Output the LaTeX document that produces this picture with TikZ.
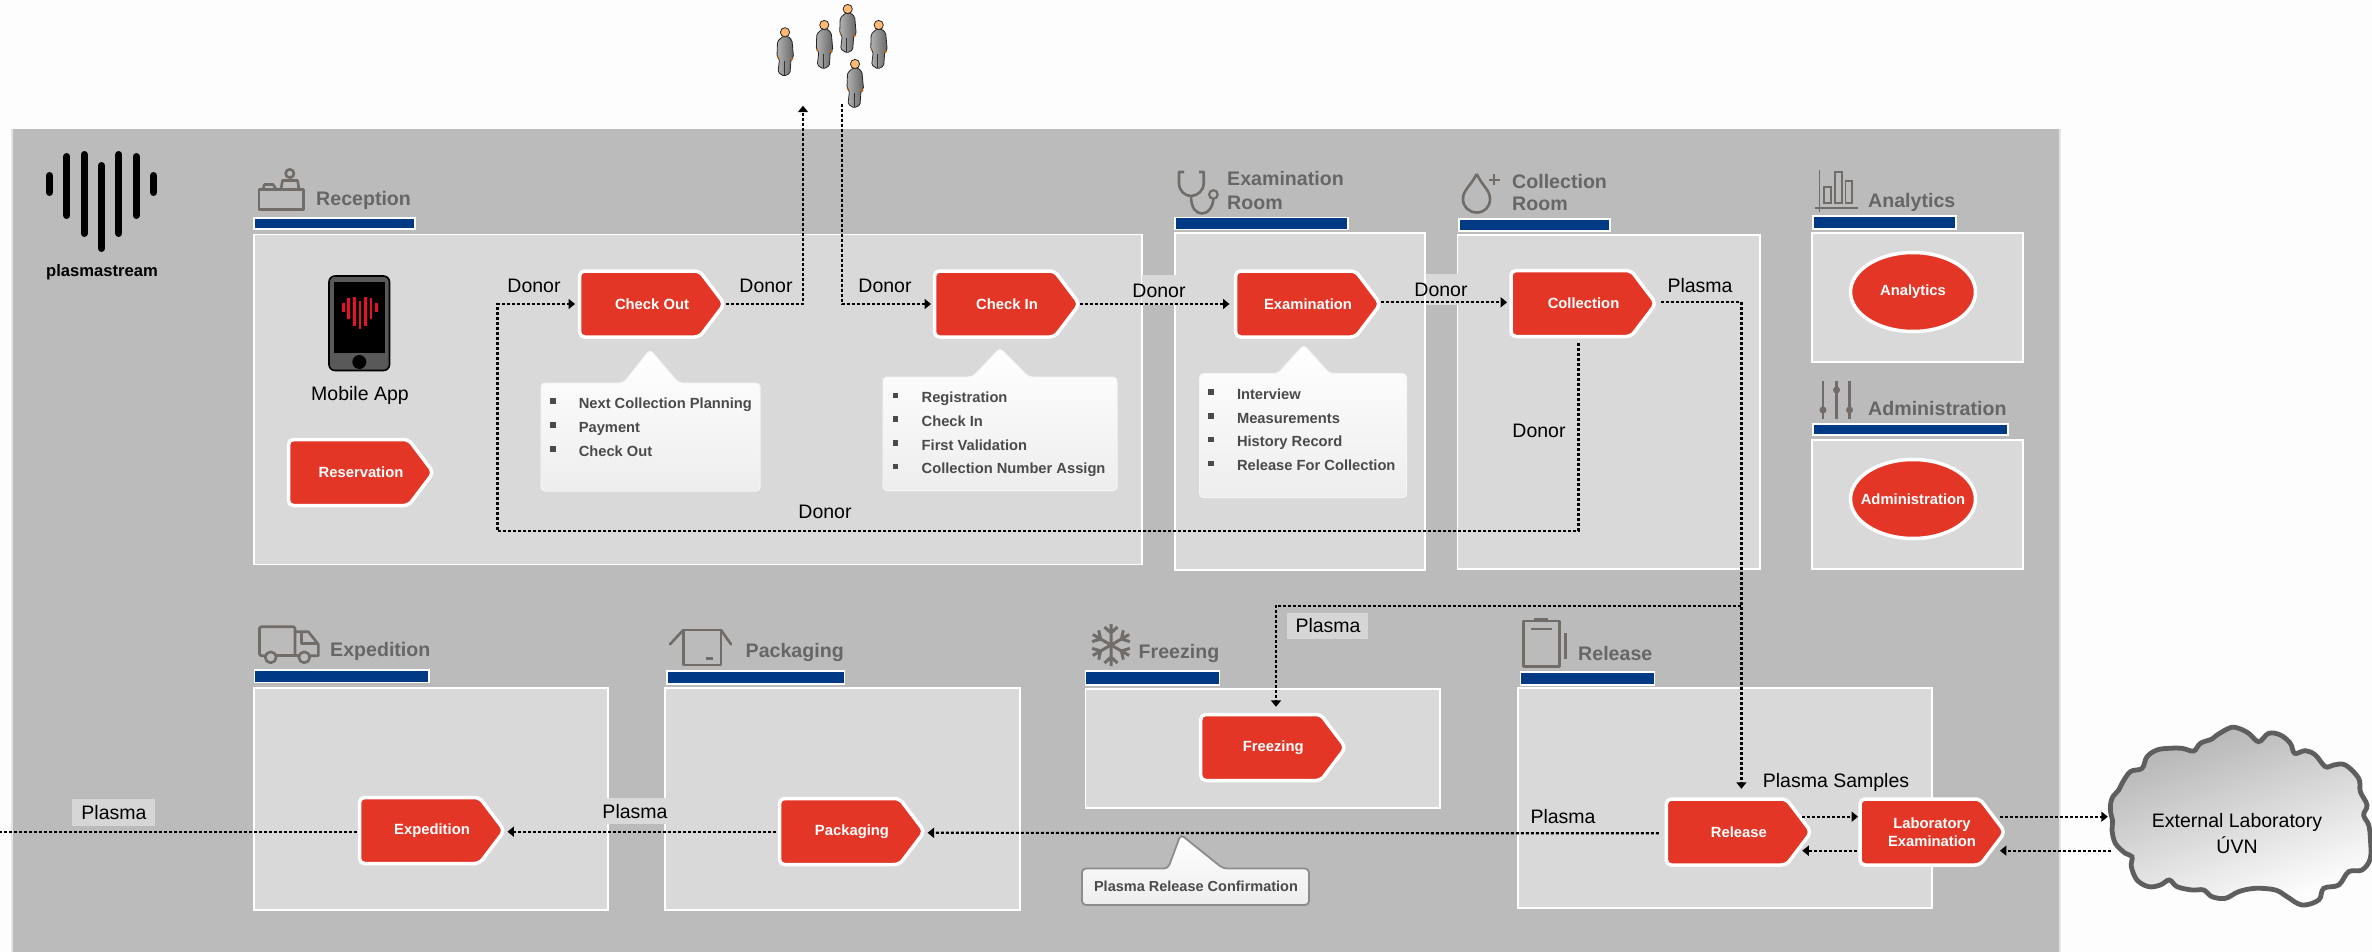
\documentclass[tikz,border=0pt]{standalone}
\usepackage{fontspec}
\setmainfont{Liberation Sans}
\usetikzlibrary{arrows.meta,shapes.geometric,calc}
\definecolor{pagebg}{HTML}{FDFDFD}
\definecolor{panelgrey}{HTML}{BBBBBB}
\definecolor{panelline}{HTML}{E4E4E4}
\definecolor{boxgrey}{HTML}{D9D9D9}
\definecolor{tagbg}{HTML}{D6D6D6}
\definecolor{barblue}{HTML}{003A85}
\definecolor{procred}{HTML}{E33626}
\definecolor{titlegrey}{HTML}{666666}
\definecolor{icongrey}{HTML}{716C68}
\definecolor{itemgrey}{HTML}{4A4A4A}
\definecolor{cloudline}{HTML}{5E5E5E}
\definecolor{heartred}{HTML}{E8102A}
\definecolor{phonegrey}{HTML}{595959}
\newcommand{\fsz}[1]{\fontsize{#1}{#1}\selectfont}
\tikzset{
  x=1pt,y=-1pt,
  areabox/.style={fill=boxgrey,draw=white,line width=1.8pt},
  bluebar/.style={fill=barblue,draw=white,line width=1.6pt},
  areatitle/.style={font=\fsz{19.6}\bfseries,text=titlegrey,anchor=west,inner sep=0pt,text height=14pt,text depth=0pt},
  plainlabel/.style={font=\fsz{19.5},text=black,inner sep=0pt,text height=14pt,text depth=0pt},
  cloudlabel/.style={font=\fsz{19.5},text=black,inner sep=0pt},
  procfill/.style={fill=procred,draw=white,line width=3.5pt,rounded corners=5pt,line join=round},
  proclabel/.style={font=\fsz{14.8}\bfseries,text=white,inner sep=0pt,minimum width=146.5pt,minimum height=70pt,align=center},
  evalnode/.style={ellipse,fill=procred,draw=white,line width=3.5pt,inner sep=0pt,minimum width=125pt,minimum height=79pt,font=\fsz{14.8}\bfseries,text=white},
  flow/.style={draw=black,line width=2.2pt,dash pattern=on 3pt off 2pt},
  flowarrow/.style={flow,-{Triangle[length=6.5pt,width=10pt]}},
  calloutfill/.style={top color=white,bottom color=white!93!black,draw=white!96!black,line width=1pt,rounded corners=4pt},
  itemtext/.style={font=\fsz{14.7}\bfseries,text=itemgrey,anchor=west,inner sep=0pt,text height=10.5pt,text depth=0pt},
  iconline/.style={draw=icongrey,line width=2.6pt,line join=round},
  logobar/.style={draw=black,line width=7pt,line cap=round},
  heartbar/.style={draw=heartred,line width=2.6pt},
  person/.pic={
    \path[draw=black!85,line width=.8pt,left color=black!30,right color=black!60,rounded corners=1.5pt]
      (-2,4) -- (3,4) -- (7,8) -- (8.5,25) -- (6,27) -- (5,41) -- (-1,44) -- (-7,40) -- (-5.5,27) -- (-8,24) -- (-7.5,9) -- cycle;
    \draw[black!80,line width=.6pt] (-1,29) -- (-1,43);
    \fill[orange!80!black] (7,26.5) circle (1.5);
    \fill[orange!80!black] (-7,25) circle (1.2);
    \path[draw=black!85,line width=.8pt,fill=orange!55!white] (0,0) circle (4.6);
  }
}
\newcommand{\flowproc}[4]{%
  \path[procfill,shift={(#2,#3)}] (-71,-33) -- (49,-33) -- (74,0) -- (49,33) -- (-71,33) -- cycle;
  \node[proclabel] (#1) at (#2,#3) {\hspace*{3pt}#4};
}
\newcommand{\listitem}[5]{%
  \fill[itemgrey] (#2-2.6,#4-4.6) rectangle (#2+2.6,#4+.6);
  \node[itemtext] (#1) at (#3,#4) {#5};
}
\begin{document}
\begin{tikzpicture}
\useasboundingbox (0,0) rectangle (2372,952);
\fill[pagebg] (0,0) rectangle (2372,952);
% main panel
\fill[panelgrey] (12,128.6) rectangle (2060,952);
\draw[panelline,line width=1.6pt] (12,952) -- (12,128.6);
\draw[panelline,line width=1.6pt] (2060,128.6) -- (2060,952);
% logo
\draw[logobar] (49.5,175.5) -- (49.5,192.5);
\draw[logobar] (66.8,156.5) -- (66.8,215.5);
\draw[logobar] (84.2,154.5) -- (84.2,233.5);
\draw[logobar] (101.5,165.5) -- (101.5,248.5);
\draw[logobar] (118.9,154.5) -- (118.9,233.5);
\draw[logobar] (136.2,156.5) -- (136.2,215.5);
\draw[logobar] (153.6,175.5) -- (153.6,192.5);
\node[font=\fsz{16.6}\bfseries,inner sep=0pt] (logotext) at (102,272.5) {plasmastream};
% area boxes
\draw[areabox] (254,234.6) rectangle (1142,564.5);
\draw[areabox] (1175,233) rectangle (1425,570);
\draw[areabox] (1457.5,235) rectangle (1760,569);
\draw[areabox] (1812,233) rectangle (2023,362);
\draw[areabox] (1812,440) rectangle (2023,569);
\draw[areabox] (254,687.7) rectangle (608,910);
\draw[areabox] (665,687.7) rectangle (1020,910);
\draw[areabox] (1085.4,688.7) rectangle (1440,807.7);
\draw[areabox] (1518,688) rectangle (1932,908);
% blue bars
\draw[bluebar] (254,218) rectangle (415,229);
\draw[bluebar] (1175,217.5) rectangle (1348,229.5);
\draw[bluebar] (1459,219) rectangle (1610,231);
\draw[bluebar] (1813,216) rectangle (1956,229);
\draw[bluebar] (1813,423.7) rectangle (2008,435);
\draw[bluebar] (254.5,670) rectangle (428.7,682.3);
\draw[bluebar] (667,671) rectangle (844.6,683.7);
\draw[bluebar] (1085.4,671) rectangle (1219.5,685);
\draw[bluebar] (1520.5,671.7) rectangle (1654.5,685);
% area titles
\node[areatitle] (tReception) at (316,199) {Reception};
\node[areatitle] (tExam) at (1227,179) {Examination};
\node[areatitle] (tExamB) at (1227,203) {Room};
\node[areatitle] (tColl) at (1512,181.7) {Collection};
\node[areatitle] (tCollB) at (1512,203.5) {Room};
\node[areatitle] (tAnal) at (1868,200.7) {Analytics};
\node[areatitle] (tAdmin) at (1868,408) {Administration};
\node[areatitle] (tExped) at (330,649) {Expedition};
\node[areatitle] (tPack) at (745.5,650.7) {Packaging};
\node[areatitle] (tFreeze) at (1138.5,651.7) {Freezing};
\node[areatitle] (tRelease) at (1578,653) {Release};
% reception icon
\draw[iconline] (259,189.5) rectangle (303.5,209.5);
\draw[iconline] (263,189) -- (264.5,184.5) -- (273,184.5) -- (276,189);
\draw[iconline] (281,189) -- (282.5,180.5) -- (297.5,180.5) -- (299,189);
\draw[iconline] (289.8,173.5) circle (4.2);
% stethoscope
\draw[iconline] (1184,172) -- (1179,172) -- (1179,183) .. controls (1179,191) and (1185,196) .. (1191,196) .. controls (1197,196) and (1203.7,191) .. (1203.7,183) -- (1203.7,172) -- (1199,172);
\draw[iconline] (1191,196) .. controls (1191,208) and (1196,213.5) .. (1202,213.5) .. controls (1209,213.5) and (1213,206) .. (1213.4,199);
\draw[icongrey,line width=2.2pt] (1213.4,194.5) circle (4.3);
% drop
\draw[iconline] (1476.7,174) .. controls (1470,187) and (1463,190) .. (1463,199) .. controls (1463,207) and (1469,212.5) .. (1476.7,212.5) .. controls (1484.5,212.5) and (1490,207) .. (1490,199) .. controls (1490,190) and (1483,187) .. (1476.7,174);
\draw[icongrey,line width=2.4pt] (1488.5,180) -- (1499.5,180) (1494,174.5) -- (1494,185.5);
% chart
\draw[icongrey,line width=1.6pt] (1819.5,170) -- (1819.5,212) (1815,208) -- (1857.5,208);
\draw[icongrey,line width=1.8pt] (1824,187) rectangle (1831,203) (1835,172) rectangle (1842,203) (1845.5,181) rectangle (1852,203);
% sliders
\draw[icongrey,line width=2.4pt] (1823,381) -- (1823,419) (1836.5,381) -- (1836.5,419) (1849.5,381) -- (1849.5,419);
\fill[icongrey] (1823,410) circle (3.5) (1836.5,390) circle (3.5) (1849.5,410) circle (3.5);
% truck
\draw[iconline,rounded corners=1.5pt] (265,655.7) -- (259.5,655.7) -- (259.5,626.7) -- (295,626.7) -- (295,655.7);
\draw[iconline] (276,655.7) -- (299,655.7);
\draw[iconline] (295,631.7) -- (308.3,631.7) -- (318.3,644.3) -- (318.3,655.7) -- (310,655.7);
\draw[iconline] (301.7,631.7) -- (301.7,643.3) -- (318.3,643.3);
\draw[iconline] (270.7,657.3) circle (5.5) (304.3,657.3) circle (5.5);
% box
\draw[iconline] (683.3,630) rectangle (721,665);
\draw[iconline,line cap=round] (683.3,630) -- (670,644.3) (721,630) -- (731,644.3);
\draw[iconline] (705.7,658.3) -- (713.3,658.3);
% snowflake
\foreach \a in {90,30,-30,-90,-150,150}{
  \draw[draw=icongrey,line width=3pt,shift={(1111,645)},rotate=\a] (0,0) -- (21,0) (12,0) -- (18,-6.5) (12,0) -- (18,6.5);
}
% clipboard
\draw[iconline] (1523.5,621) rectangle (1559.3,666.7);
\draw[icongrey,line width=3pt] (1534,619.8) -- (1548.3,619.8);
\draw[icongrey,line width=2.6pt] (1530.7,629) -- (1551.7,629);
\draw[icongrey,line width=3pt] (1565,633.3) -- (1565,659.3);
% phone
\draw[fill=phonegrey,draw=black,line width=1.6pt,rounded corners=6pt] (329,276) rectangle (389.5,370.5);
\fill[black] (334,282) rectangle (385,353);
\fill[black] (359.3,362) circle (7);
\draw[heartbar] (343.3,303) -- (343.3,312);
\draw[heartbar] (348.7,298) -- (348.7,319);
\draw[heartbar] (354.3,297) -- (354.3,326);
\draw[heartbar] (360,301) -- (360,329);
\draw[heartbar] (365.3,297) -- (365.3,326);
\draw[heartbar] (371,298) -- (371,319);
\draw[heartbar] (376.3,303) -- (376.3,312);
\node[plainlabel] (mobile) at (360,393) {Mobile App};
% people
\pic at (785,32.3) {person};
\pic at (824.3,25) {person};
\pic at (847.7,9) {person};
\pic at (878.7,25) {person};
\pic at (855,64) {person};
\node[inner sep=0pt,minimum width=120pt,minimum height=103pt] (crowd) at (835,55) {};
% tag backgrounds
\fill[boxgrey] (1142,274.5) rectangle (1176,305);
\fill[boxgrey] (1426,274) rectangle (1458,305);
\fill[tagbg] (72,799) rectangle (155,826);
\fill[boxgrey] (606,798) rectangle (666,824);
\fill[tagbg] (1287,612.7) rectangle (1368,639);
% cloud
\begin{scope}[shift={(2092,715)},scale=1/3]
\path[draw=cloudline,line width=4.8pt,left color=black!30,right color=white,shading angle=20]
  plot[smooth cycle,tension=0.6] coordinates {(415,38) (375,60) (360,72) (325,85) (305,108) (270,100) (230,100) (195,105) (165,125) (150,160) (115,170) (90,205) (80,225) (60,250) (55,285) (62,320) (60,345) (70,385) (100,415) (120,425) (118,455) (135,495) (170,515) (205,510) (232,495) (255,515) (300,525) (335,525) (360,545) (400,550) (440,530) (490,520) (550,525) (585,545) (630,570) (680,555) (695,520) (740,510) (770,470) (810,465) (835,430) (835,370) (830,330) (815,300) (825,270) (805,230) (800,190) (760,150) (725,150) (700,155) (670,120) (640,107) (608,115) (595,85) (565,60) (530,55) (500,80) (470,55) (440,40)};
\end{scope}
\node[cloudlabel,minimum width=264pt,minimum height=60pt,align=center] (extlab) at (2240,834) {\hspace*{-6pt}External Laboratory\\[4pt]\hspace*{-6pt}ÚVN};
% process shapes
\flowproc{reservation}{359.5}{472.5}{Reservation}
\flowproc{checkout}{650.5}{304}{Check Out}
\flowproc{checkin}{1005.5}{304}{Check In}
\flowproc{examination}{1306.5}{304}{Examination}
\flowproc{collection}{1582}{303.5}{Collection}
\flowproc{expedition}{430.5}{830.5}{Expedition}
\flowproc{packaging}{850.5}{831.5}{Packaging}
\flowproc{freezing}{1271.7}{747.5}{Freezing}
\flowproc{release}{1737.3}{832}{Release}
\path[procfill,shift={(1931,832)}] (-71,-33) -- (49,-33) -- (74,0) -- (49,33) -- (-71,33) -- cycle;
\node[proclabel] (labexam) at (1931,832) {\hspace*{2pt}Laboratory\\[3.6pt]\hspace*{2pt}Examination};
\node[evalnode] (analytics) at (1913,292) {\makebox[0pt][c]{Analytics}};
\node[evalnode] (administration) at (1913,499) {\makebox[0pt][c]{Administration}};
% connectors
\coordinate (donorCorner) at (497.4,531);
\coordinate (plasmaJoin) at (1741.4,605.7);
\coordinate (offLeft) at (0,832);
\draw[flowarrow] ([xshift=2pt]checkout.east) -| ([xshift=-32pt,yshift=1pt]crowd.south);
\draw[flowarrow] ([xshift=7pt,yshift=3pt]crowd.south) |- ([xshift=-1pt]checkin.west);
\draw[flowarrow] ([xshift=1.5pt]checkin.east) -- ([xshift=-3.5pt]examination.west);
\draw[flowarrow] ([xshift=1.5pt,yshift=1.7pt]examination.east) -- ([xshift=-1.5pt,yshift=1.2pt]collection.west);
\draw[flowarrow] ([xshift=-3.5pt,yshift=-4.5pt]collection.south) |- (donorCorner) |- ([xshift=-2pt]checkout.west);
\draw[flowarrow] ([xshift=6pt,yshift=1.2pt]collection.east) -| ([xshift=4.1pt,yshift=8pt]release.north);
\draw[flowarrow] (plasmaJoin) -| ([xshift=4.3pt,yshift=5.5pt]freezing.north);
\draw[flowarrow] ([xshift=-5pt,yshift=-1.3pt]release.west) -- ([xshift=3.6pt,yshift=-1.3pt]packaging.east);
\draw[flowarrow] ([xshift=-1.5pt,yshift=-.2pt]packaging.west) -- ([xshift=3.5pt,yshift=-1.2pt]expedition.east);
\draw[flow] (expedition.west |- offLeft) -- (offLeft);
\draw[flowarrow] ([xshift=-8.5pt,yshift=15.3pt]release.east) -- ([xshift=.5pt,yshift=15.3pt]labexam.west);
\draw[flowarrow] ([xshift=-1pt,yshift=-18.7pt]labexam.west) -- ([xshift=-8.5pt,yshift=-18.7pt]release.east);
\draw[flowarrow] ([xshift=-4.5pt,yshift=15.3pt]labexam.east) -- ([yshift=17.3pt]extlab.west);
\draw[flowarrow] ([xshift=3pt,yshift=-16.7pt]extlab.west) -- ([xshift=-4.5pt,yshift=-18.7pt]labexam.east);
% connector labels
\node[plainlabel] (lDonorA) at (534,285) {Donor};
\node[plainlabel] (lDonorB) at (766,285) {Donor};
\node[plainlabel] (lDonorC) at (885,285.5) {Donor};
\node[plainlabel] (lDonorD) at (1159,290.4) {Donor};
\node[plainlabel] (lDonorE) at (1441,289) {Donor};
\node[plainlabel] (lDonorF) at (825,511.7) {Donor};
\node[plainlabel] (lDonorG) at (1539,430) {Donor};
\node[plainlabel] (lPlasmaA) at (1700,285.7) {Plasma};
\node[plainlabel] (lPlasmaB) at (1328,625) {Plasma};
\node[plainlabel] (lPlasmaC) at (1836,780) {Plasma Samples};
\node[plainlabel] (lPlasmaD) at (1563,816) {Plasma};
\node[plainlabel] (lPlasmaE) at (635,811) {Plasma};
\node[plainlabel] (lPlasmaF) at (114,812.7) {Plasma};
% callouts
\path[calloutfill] (541,383) -- (623.5,383) -- (650,349.5) -- (678.6,383) -- (760,383) -- (760,491) -- (541,491) -- cycle;
\listitem{iA}{553}{578.6}{403}{Next Collection Planning}
\listitem{iB}{553}{578.6}{427}{Payment}
\listitem{iC}{553}{578.6}{451}{Check Out}
\path[calloutfill] (883,377) -- (972.5,377) -- (1000,348) -- (1028.7,377) -- (1117,377) -- (1117,490.6) -- (883,490.6) -- cycle;
\listitem{iD}{895.5}{921.5}{397.7}{Registration}
\listitem{iE}{895.5}{921.5}{421}{Check In}
\listitem{iF}{895.5}{921.5}{445}{First Validation}
\listitem{iG}{895.5}{921.5}{468.4}{Collection Number Assign}
\path[calloutfill] (1199.6,373.7) -- (1277.7,373.7) -- (1303.7,344.8) -- (1329.7,373.7) -- (1406.7,373.7) -- (1406.7,497.6) -- (1199.6,497.6) -- cycle;
\listitem{iH}{1211}{1236.8}{394}{Interview}
\listitem{iI}{1211}{1236.8}{418}{Measurements}
\listitem{iJ}{1211}{1236.8}{441.4}{History Record}
\listitem{iK}{1211}{1236.8}{465.4}{Release For Collection}
\path[calloutfill,draw=black!45,line width=1.8pt] (1082,868.5) -- (1168,868.5) -- (1180.7,834.5) -- (1223,868.5) -- (1309,868.5) -- (1309,905) -- (1082,905) -- cycle;
\node[font=\fsz{14.5}\bfseries,text=itemgrey,inner sep=0pt] (confirm) at (1196,886.7) {Plasma Release Confirmation};
\end{tikzpicture}
\end{document}
